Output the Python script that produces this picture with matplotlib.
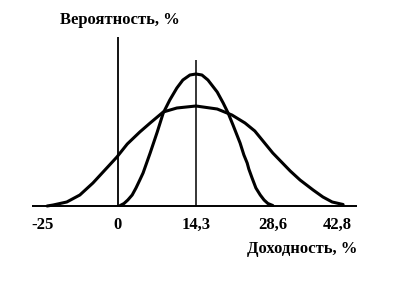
import numpy as np
import matplotlib
matplotlib.use("Agg")
import matplotlib.pyplot as plt

# Narrow distribution
narrow_x = [0.4, 1.1, 1.8, 2.6, 3.3, 4.0, 4.6, 5.9, 7.2, 8.3, 9.5, 10.8, 11.9,
            13.2, 14.3, 15.4, 16.5, 18.2, 19.3, 20.2, 21.1, 22.4, 23.1, 23.7,
            24.0, 24.6, 25.3, 26.1, 26.8, 27.5, 28.4]
narrow_y = [0.05, 0.25, 0.6, 1.1, 1.8, 2.6, 3.3, 5.3, 7.4, 9.3, 10.6, 11.8, 12.6,
            13.1, 13.2, 13.1, 12.6, 11.4, 10.3, 9.3, 8.1, 6.3, 5.1, 4.3,
            3.7, 2.8, 1.8, 1.1, 0.6, 0.25, 0.05]

# Wide distribution
wide_x = [-13.0, -11.9, -9.4, -7.0, -4.6, -2.4, -0.2, 1.7, 4.0, 5.9, 8.3, 10.8,
          14.3, 18.2, 20.9, 23.3, 25.1, 28.4, 31.6, 33.4, 35.8, 37.6, 39.3, 41.3]
wide_y = [0.0, 0.1, 0.4, 1.1, 2.3, 3.6, 4.9, 6.2, 7.4, 8.3, 9.4, 9.8,
          10.0, 9.7, 9.1, 8.3, 7.5, 5.3, 3.5, 2.6, 1.6, 0.9, 0.4, 0.15]

tick_pos = [-13.8, 0, 14.3, 28.4, 40.2]
tick_labels = ["-25", "0", "14,3", "28,6", "42,8"]

mean_return = 14.3

plt.rcParams['font.family'] = ['Liberation Serif', 'DejaVu Serif']

fig = plt.figure(figsize=(4.0, 2.97), dpi=100)
ax = fig.add_axes([0, 0, 1, 1])
ax.set_xlim(-21.65, 51.74)
ax.set_ylim(-9.1, 20.6)
ax.axis('off')

# axes drawn by hand
ax.hlines(0, -15.8, 43.8, color='black', lw=1.4)
ax.vlines(0, 0, 16.9, color='black', lw=1.3)
ax.vlines(mean_return, 0, 14.6, color='black', lw=1.1)

ax.plot(narrow_x, narrow_y, color='black', lw=2.2,
        solid_capstyle='round', solid_joinstyle='round')
ax.plot(wide_x, wide_y, color='black', lw=2.2,
        solid_capstyle='round', solid_joinstyle='round')

for pos, lab in zip(tick_pos, tick_labels):
    ax.text(pos, -1.9, lab, ha='center', va='center', fontsize=12,
            fontweight='bold')

ax.text(33.8, -4.3, "Доходность, %", ha='center', va='center', fontsize=12,
        fontweight='bold')
ax.text(0.4, 18.6, "Вероятность, %", ha='center', va='center', fontsize=12,
        fontweight='bold')

fig.savefig("out.png", dpi=100, facecolor='white')
